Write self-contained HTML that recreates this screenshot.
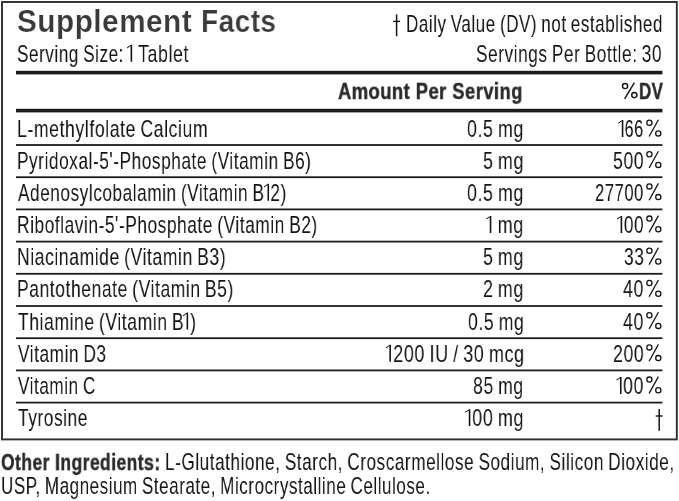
<!DOCTYPE html>
<html><head><meta charset="utf-8"><style>
html,body{margin:0;padding:0;background:#fff;}
body{width:679px;height:501px;position:relative;overflow:hidden;font-family:"Liberation Sans",sans-serif;}
.t{position:absolute;white-space:nowrap;line-height:1;transform-origin:0 0;will-change:transform;}
.r{-webkit-text-stroke:0.0px #fff;}
.o{color:transparent;-webkit-text-stroke:0;}
svg{position:absolute;left:0;top:0;}
</style></head><body>
<svg width="679" height="501" viewBox="0 0 679 501"><rect x="2" y="2" width="674.8" height="437.4" fill="none" stroke="#2e2e2e" stroke-width="1.9"/><rect x="16" y="70.8" width="646.4" height="3.6" fill="#1c1c1c"/><rect x="16" y="108.8" width="646.4" height="3.6" fill="#1c1c1c"/><rect x="16" y="144.10" width="646.4" height="1.8" fill="#1c1c1c"/><rect x="16" y="176.30" width="646.4" height="1.8" fill="#1c1c1c"/><rect x="16" y="208.50" width="646.4" height="1.8" fill="#1c1c1c"/><rect x="16" y="240.70" width="646.4" height="1.8" fill="#1c1c1c"/><rect x="16" y="272.90" width="646.4" height="1.8" fill="#1c1c1c"/><rect x="16" y="305.10" width="646.4" height="1.8" fill="#1c1c1c"/><rect x="16" y="337.30" width="646.4" height="1.8" fill="#1c1c1c"/><rect x="16" y="369.50" width="646.4" height="1.8" fill="#1c1c1c"/><rect x="16" y="401.70" width="646.4" height="1.8" fill="#1c1c1c"/><g fill="none" stroke="#151515" stroke-width="1.45"><circle cx="625.10" cy="86.00" r="2.6"/><circle cx="634.30" cy="95.10" r="2.6"/><line x1="634.40" y1="82.70" x2="624.60" y2="98.80"/></g><g fill="none" stroke="#151515" stroke-width="1.3"><circle cx="649.40" cy="122.70" r="2.6"/><circle cx="658.30" cy="133.40" r="2.6"/><line x1="658.40" y1="119.70" x2="649.10" y2="136.50"/></g><g fill="none" stroke="#151515" stroke-width="1.3"><circle cx="649.40" cy="154.20" r="2.6"/><circle cx="658.30" cy="164.90" r="2.6"/><line x1="658.40" y1="151.20" x2="649.10" y2="168.00"/></g><g fill="none" stroke="#151515" stroke-width="1.3"><circle cx="649.40" cy="186.40" r="2.6"/><circle cx="658.30" cy="197.10" r="2.6"/><line x1="658.40" y1="183.40" x2="649.10" y2="200.20"/></g><g fill="none" stroke="#151515" stroke-width="1.3"><circle cx="649.40" cy="218.60" r="2.6"/><circle cx="658.30" cy="229.30" r="2.6"/><line x1="658.40" y1="215.60" x2="649.10" y2="232.40"/></g><g fill="none" stroke="#151515" stroke-width="1.3"><circle cx="649.40" cy="250.80" r="2.6"/><circle cx="658.30" cy="261.50" r="2.6"/><line x1="658.40" y1="247.80" x2="649.10" y2="264.60"/></g><g fill="none" stroke="#151515" stroke-width="1.3"><circle cx="649.40" cy="283.00" r="2.6"/><circle cx="658.30" cy="293.70" r="2.6"/><line x1="658.40" y1="280.00" x2="649.10" y2="296.80"/></g><g fill="none" stroke="#151515" stroke-width="1.3"><circle cx="649.40" cy="315.20" r="2.6"/><circle cx="658.30" cy="325.90" r="2.6"/><line x1="658.40" y1="312.20" x2="649.10" y2="329.00"/></g><g fill="none" stroke="#151515" stroke-width="1.3"><circle cx="649.40" cy="347.40" r="2.6"/><circle cx="658.30" cy="358.10" r="2.6"/><line x1="658.40" y1="344.40" x2="649.10" y2="361.20"/></g><g fill="none" stroke="#151515" stroke-width="1.3"><circle cx="649.40" cy="379.60" r="2.6"/><circle cx="658.30" cy="390.30" r="2.6"/><line x1="658.40" y1="376.60" x2="649.10" y2="393.40"/></g><g fill="#151515"><rect x="395.85" y="14.40" width="1.5" height="21.8"/><rect x="393.10" y="20.70" width="7" height="1.4"/></g><g fill="#151515"><rect x="658.45" y="409.00" width="1.5" height="21.8"/><rect x="655.70" y="415.30" width="7" height="1.4"/></g><path d="M130.57 61.70V46.00L127.27 48.40L126.97 47.40L130.97 44.80H132.17V61.70Z" fill="#151515"/><path d="M621.75 137.00V121.30L618.45 123.70L618.15 122.70L622.15 120.10H623.35V137.00Z" fill="#151515"/><path d="M267.47 200.70V185.00L264.17 187.40L263.87 186.40L267.87 183.80H269.07V200.70Z" fill="#151515"/><path d="M489.75 232.90V217.20L486.45 219.60L486.15 218.60L490.15 216.00H491.35V232.90Z" fill="#151515"/><path d="M620.60 232.90V217.20L617.30 219.60L617.00 218.60L621.00 216.00H622.20V232.90Z" fill="#151515"/><path d="M186.56 329.50V313.80L183.26 316.20L182.96 315.20L186.96 312.60H188.16V329.50Z" fill="#151515"/><path d="M389.36 361.70V346.00L386.06 348.40L385.76 347.40L389.76 344.80H390.96V361.70Z" fill="#151515"/><path d="M619.97 393.90V378.20L616.67 380.60L616.37 379.60L620.37 377.00H621.57V393.90Z" fill="#151515"/><path d="M468.75 426.10V410.40L465.45 412.80L465.15 411.80L469.15 409.20H470.35V426.10Z" fill="#151515"/></svg>
<div class="t" style="left:16.80px;top:5.88px;font-size:29.7px;font-weight:700;color:#3a3a3a;transform:scale(1.0017,1.0250);letter-spacing:0.5px;-webkit-text-stroke:0.2px #fff;">Supplement</div>
<div class="t" style="left:200.92px;top:5.88px;font-size:29.7px;font-weight:700;color:#3a3a3a;transform:scale(0.9421,1.0250);letter-spacing:0.5px;-webkit-text-stroke:0.2px #fff;">Facts</div>
<div class="t r" style="left:16.89px;top:41.70px;font-size:24px;font-weight:400;color:#151515;transform:scale(0.7116,1.0000);letter-spacing:0.8px;word-spacing:-1.5px;">Serving Size:</div>
<div class="t r" style="left:127.84px;top:41.70px;font-size:24px;font-weight:400;color:#151515;transform:scale(0.7373,1.0000);letter-spacing:0.8px;word-spacing:-1.5px;"><span class="o" style="letter-spacing:-2.7px;margin-left:-2.4px">1</span> Tablet</div>
<div class="t r" style="left:406.29px;top:11.50px;font-size:24px;font-weight:400;color:#151515;transform:scale(0.7072,1.0000);letter-spacing:0.8px;word-spacing:-1.5px;">Daily Value (DV) not established</div>
<div class="t r" style="left:476.08px;top:41.90px;font-size:24px;font-weight:400;color:#151515;transform:scale(0.7175,1.0000);letter-spacing:0.8px;word-spacing:-1.5px;">Servings Per Bottle: 30</div>
<div class="t" style="left:338.30px;top:80.81px;font-size:23px;font-weight:700;color:#2a2a2a;transform:scale(0.7974,0.9471);letter-spacing:0.6px;-webkit-text-stroke:0.45px #2a2a2a;">Amount Per Serving</div>
<div class="t" style="left:639.23px;top:80.81px;font-size:23px;font-weight:700;color:#2a2a2a;transform:scale(0.7333,0.9471);letter-spacing:0.6px;-webkit-text-stroke:0.45px #2a2a2a;">DV</div>
<div class="t r" style="left:16.93px;top:117.00px;font-size:24px;font-weight:400;color:#151515;transform:scale(0.7348,1.0000);letter-spacing:0.8px;word-spacing:-1.5px;">L-methylfolate Calcium</div>
<div class="t r" style="left:467.26px;top:117.00px;font-size:24px;font-weight:400;color:#151515;transform:scale(0.7425,1.0000);letter-spacing:0.8px;word-spacing:-1.5px;">0.5 mg</div>
<div class="t r" style="left:619.38px;top:117.00px;font-size:24px;font-weight:400;color:#151515;transform:scale(0.6750,1.0000);letter-spacing:0.8px;word-spacing:-1.5px;"><span class="o" style="letter-spacing:-2.7px;margin-left:-2.4px">1</span>66</div>
<div class="t r" style="left:16.97px;top:148.50px;font-size:24px;font-weight:400;color:#151515;transform:scale(0.7172,1.0000);letter-spacing:0.8px;word-spacing:-1.5px;">Pyridoxal-5'-Phosphate (Vitamin B6)</div>
<div class="t r" style="left:482.76px;top:148.50px;font-size:24px;font-weight:400;color:#151515;transform:scale(0.7442,1.0000);letter-spacing:0.8px;word-spacing:-1.5px;">5 mg</div>
<div class="t r" style="left:612.87px;top:148.50px;font-size:24px;font-weight:400;color:#151515;transform:scale(0.7350,1.0000);letter-spacing:0.8px;word-spacing:-1.5px;">500</div>
<div class="t r" style="left:18.40px;top:180.70px;font-size:24px;font-weight:400;color:#151515;transform:scale(0.7155,1.0000);letter-spacing:0.8px;word-spacing:-1.5px;">Adenosylcobalamin (Vitamin B<span class="o" style="letter-spacing:-2.7px;margin-left:-2.4px">1</span>2)</div>
<div class="t r" style="left:467.26px;top:180.70px;font-size:24px;font-weight:400;color:#151515;transform:scale(0.7425,1.0000);letter-spacing:0.8px;word-spacing:-1.5px;">0.5 mg</div>
<div class="t r" style="left:595.31px;top:180.70px;font-size:24px;font-weight:400;color:#151515;transform:scale(0.6912,1.0000);letter-spacing:0.8px;word-spacing:-1.5px;">27700</div>
<div class="t r" style="left:16.96px;top:212.90px;font-size:24px;font-weight:400;color:#151515;transform:scale(0.7193,1.0000);letter-spacing:0.8px;word-spacing:-1.5px;">Riboflavin-5'-Phosphate (Vitamin B2)</div>
<div class="t r" style="left:486.95px;top:212.90px;font-size:24px;font-weight:400;color:#151515;transform:scale(0.7500,1.0000);letter-spacing:0.8px;word-spacing:-1.5px;"><span class="o" style="letter-spacing:-2.7px;margin-left:-2.4px">1</span> mg</div>
<div class="t r" style="left:618.01px;top:212.90px;font-size:24px;font-weight:400;color:#151515;transform:scale(0.7139,1.0000);letter-spacing:0.8px;word-spacing:-1.5px;"><span class="o" style="letter-spacing:-2.7px;margin-left:-2.4px">1</span>00</div>
<div class="t r" style="left:16.94px;top:245.10px;font-size:24px;font-weight:400;color:#151515;transform:scale(0.7301,1.0000);letter-spacing:0.8px;word-spacing:-1.5px;">Niacinamide (Vitamin B3)</div>
<div class="t r" style="left:482.86px;top:245.10px;font-size:24px;font-weight:400;color:#151515;transform:scale(0.7423,1.0000);letter-spacing:0.8px;word-spacing:-1.5px;">5 mg</div>
<div class="t r" style="left:624.28px;top:245.10px;font-size:24px;font-weight:400;color:#151515;transform:scale(0.7200,1.0000);letter-spacing:0.8px;word-spacing:-1.5px;">33</div>
<div class="t r" style="left:16.94px;top:277.30px;font-size:24px;font-weight:400;color:#151515;transform:scale(0.7276,1.0000);letter-spacing:0.8px;word-spacing:-1.5px;">Pantothenate (Vitamin B5)</div>
<div class="t r" style="left:482.86px;top:277.30px;font-size:24px;font-weight:400;color:#151515;transform:scale(0.7423,1.0000);letter-spacing:0.8px;word-spacing:-1.5px;">2 mg</div>
<div class="t r" style="left:623.06px;top:277.30px;font-size:24px;font-weight:400;color:#151515;transform:scale(0.7385,1.0000);letter-spacing:0.8px;word-spacing:-1.5px;">40</div>
<div class="t r" style="left:17.67px;top:309.50px;font-size:24px;font-weight:400;color:#151515;transform:scale(0.7295,1.0000);letter-spacing:0.8px;word-spacing:-1.5px;">Thiamine (Vitamin B<span class="o" style="letter-spacing:-2.7px;margin-left:-2.4px">1</span>)</div>
<div class="t r" style="left:467.76px;top:309.50px;font-size:24px;font-weight:400;color:#151515;transform:scale(0.7356,1.0000);letter-spacing:0.8px;word-spacing:-1.5px;">0.5 mg</div>
<div class="t r" style="left:623.06px;top:309.50px;font-size:24px;font-weight:400;color:#151515;transform:scale(0.7385,1.0000);letter-spacing:0.8px;word-spacing:-1.5px;">40</div>
<div class="t r" style="left:18.40px;top:341.70px;font-size:24px;font-weight:400;color:#151515;transform:scale(0.7174,1.0000);letter-spacing:0.8px;word-spacing:-1.5px;">Vitamin D3</div>
<div class="t r" style="left:386.55px;top:341.70px;font-size:24px;font-weight:400;color:#151515;transform:scale(0.7495,1.0000);letter-spacing:0.8px;word-spacing:-1.5px;"><span class="o" style="letter-spacing:-2.7px;margin-left:-2.4px">1</span>200 IU / 30 mcg</div>
<div class="t r" style="left:612.76px;top:341.70px;font-size:24px;font-weight:400;color:#151515;transform:scale(0.7375,1.0000);letter-spacing:0.8px;word-spacing:-1.5px;">200</div>
<div class="t r" style="left:18.40px;top:373.90px;font-size:24px;font-weight:400;color:#151515;transform:scale(0.7121,1.0000);letter-spacing:0.8px;word-spacing:-1.5px;">Vitamin C</div>
<div class="t r" style="left:473.07px;top:373.90px;font-size:24px;font-weight:400;color:#151515;transform:scale(0.7333,1.0000);letter-spacing:0.8px;word-spacing:-1.5px;">85 mg</div>
<div class="t r" style="left:617.24px;top:373.90px;font-size:24px;font-weight:400;color:#151515;transform:scale(0.7361,1.0000);letter-spacing:0.8px;word-spacing:-1.5px;"><span class="o" style="letter-spacing:-2.7px;margin-left:-2.4px">1</span>00</div>
<div class="t r" style="left:17.68px;top:406.10px;font-size:24px;font-weight:400;color:#151515;transform:scale(0.7202,1.0000);letter-spacing:0.8px;word-spacing:-1.5px;">Tyrosine</div>
<div class="t r" style="left:465.95px;top:406.10px;font-size:24px;font-weight:400;color:#151515;transform:scale(0.7500,1.0000);letter-spacing:0.8px;word-spacing:-1.5px;"><span class="o" style="letter-spacing:-2.7px;margin-left:-2.4px">1</span>00 mg</div>
<div class="t" style="left:1.44px;top:451.99px;font-size:23px;font-weight:700;color:#2a2a2a;transform:scale(0.7587,0.9529);letter-spacing:0.6px;-webkit-text-stroke:0.45px #2a2a2a;">Other Ingredients:</div>
<div class="t r" style="left:164.57px;top:450.20px;font-size:24px;font-weight:400;color:#151515;transform:scale(0.7134,1.0000);letter-spacing:0.8px;word-spacing:-1.5px;">L-Glutathione, Starch, Croscarmellose Sodium, Silicon Dioxide,</div>
<div class="t r" style="left:0.79px;top:474.30px;font-size:24px;font-weight:400;color:#151515;transform:scale(0.7075,1.0000);letter-spacing:0.8px;word-spacing:-1.5px;">USP, Magnesium Stearate, Microcrystalline Cellulose.</div>
</body></html>
